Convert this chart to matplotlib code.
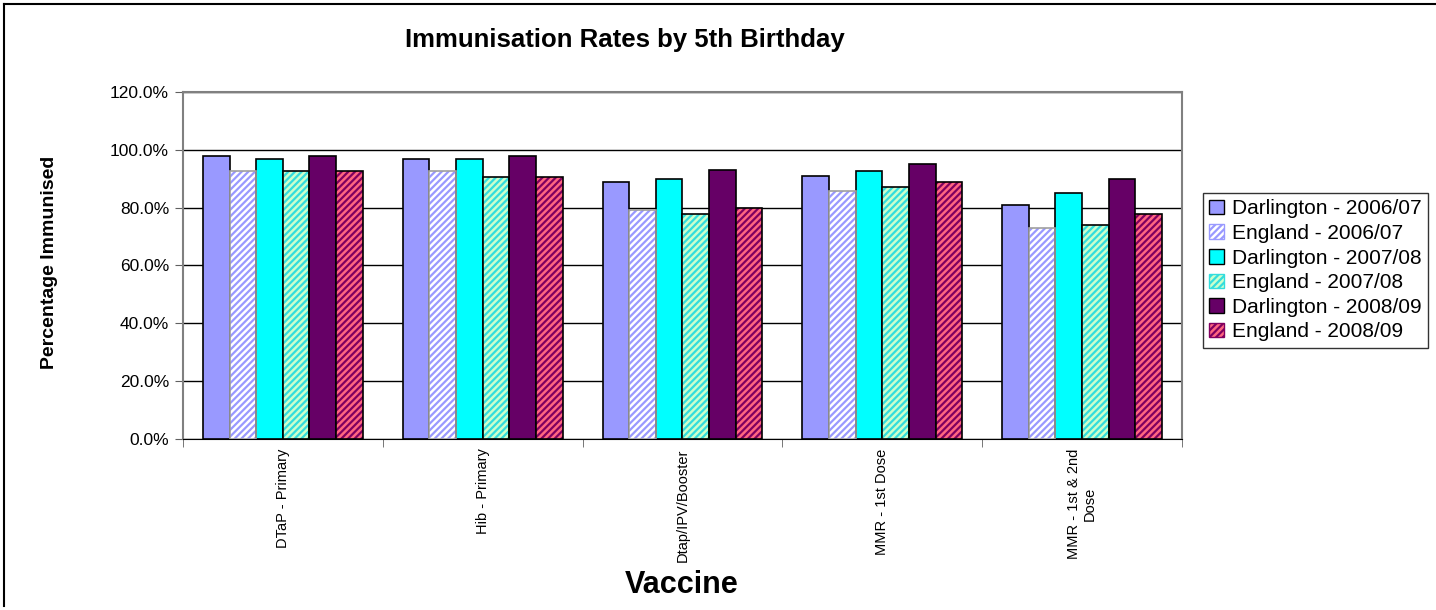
import numpy as np
import matplotlib
matplotlib.use("Agg")
import matplotlib.pyplot as plt
from matplotlib.patches import Patch
from matplotlib.lines import Line2D

plt.rcParams['font.family'] = ['Liberation Sans', 'DejaVu Sans']
plt.rcParams['hatch.linewidth'] = 1.6

vaccines = ["DTaP - Primary", "Hib - Primary", "Dtap/IPV/Booster",
            "MMR - 1st Dose", "MMR - 1st & 2nd\nDose"]
series = ["Darlington - 2006/07", "England - 2006/07", "Darlington - 2007/08",
          "England - 2007/08", "Darlington - 2008/09", "England - 2008/09"]

darlington_0607 = [98.0, 97.0, 88.7, 90.8, 80.8]
england_0607 = [92.7, 92.7, 79.1, 85.8, 72.9]
darlington_0708 = [97.0, 97.0, 89.9, 92.8, 85.1]
england_0708 = [92.7, 90.6, 77.9, 87.0, 73.9]
darlington_0809 = [98.0, 98.0, 92.9, 95.0, 89.9]
england_0809 = [92.7, 90.6, 79.9, 88.7, 77.9]

values = [darlington_0607, england_0607, darlington_0708,
          england_0708, darlington_0809, england_0809]
# face colour, hatch colour (None = solid), outline
styles = [("#9999FF", None, "black"),
          ("#FFFFFF", "#9999FF", "#A0A0A0"),
          ("#00FFFF", None, "black"),
          ("#CCFFCC", "#33DDDD", "black"),
          ("#660066", None, "black"),
          ("#FF6680", "#800060", "black")]

fig = plt.figure(figsize=(14.36, 6.1), dpi=100)
ax = fig.add_axes([0.1274, 0.281, 0.6957, 0.568])

x = np.arange(len(vaccines))
w = 0.8 / len(series)
handles = []
for i, (vals, (fc, hc, ec)) in enumerate(zip(values, styles)):
    pos = x + (i - 2.5) * w
    if hc is None:
        ax.bar(pos, vals, w, color=fc, edgecolor=ec, linewidth=1.2, zorder=3)
        handles.append(Patch(facecolor=fc, edgecolor=ec, linewidth=1.0))
    else:
        ax.bar(pos, vals, w, color=fc, edgecolor=hc, hatch='/////', linewidth=0, zorder=3)
        ax.bar(pos, vals, w, color='none', edgecolor=ec, linewidth=1.2, zorder=4)
        handles.append(Patch(facecolor=fc, edgecolor=hc, hatch='/////', linewidth=1.0))

ax.set_xlim(-0.5, len(vaccines) - 0.5)
ax.set_ylim(0, 120)
ax.set_yticks(np.arange(0, 121, 20))
ax.set_yticklabels(["%.1f%%" % v for v in np.arange(0, 121, 20)], fontsize=12.5)
ax.tick_params(axis='y', length=6, color='#606060', pad=4)
ax.grid(axis='y', color='black', linewidth=1.0, zorder=0)

ax.set_xticks(x)
ax.set_xticklabels(vaccines, rotation=90, fontsize=10.5, va='top', ma='center')
ax.set_xticks(np.arange(-0.5, len(vaccines)), minor=True)
ax.tick_params(axis='x', which='major', length=0, pad=7)
ax.tick_params(axis='x', which='minor', length=6, color='#606060')

for s in ['left', 'top', 'right']:
    ax.spines[s].set_color('#808080')
    ax.spines[s].set_linewidth(1.5)
ax.spines['bottom'].set_color('black')

fig.text(625 / 1436, 1 - 40 / 610, "Immunisation Rates by 5th Birthday",
         fontsize=18.5, fontweight='bold', ha='center', va='center')
fig.text(682 / 1436, 1 - 585 / 610, "Vaccine", fontsize=22, fontweight='bold',
         ha='center', va='center')
fig.text(50 / 1436, 1 - 262 / 610, "Percentage Immunised", fontsize=14,
         fontweight='bold', rotation=90, ha='center', va='center')

leg = fig.legend(handles, series, loc='upper left',
                 bbox_to_anchor=(1203 / 1436, 1 - 193 / 610), fontsize=15,
                 frameon=True, fancybox=False, edgecolor='black',
                 handlelength=0.7, handleheight=0.7, handletextpad=0.4,
                 labelspacing=0.27, borderpad=0.3, borderaxespad=0)
leg.get_frame().set_linewidth(1.0)

# outer chart border
fig.add_artist(Line2D([4 / 1436, 4 / 1436], [1 - 606 / 610, 1 - 4 / 610],
                      transform=fig.transFigure, color='black', linewidth=1.5))
fig.add_artist(Line2D([4 / 1436, 1.0], [1 - 4 / 610, 1 - 4 / 610],
                      transform=fig.transFigure, color='black', linewidth=1.5))

fig.savefig("out.png", dpi=100)
